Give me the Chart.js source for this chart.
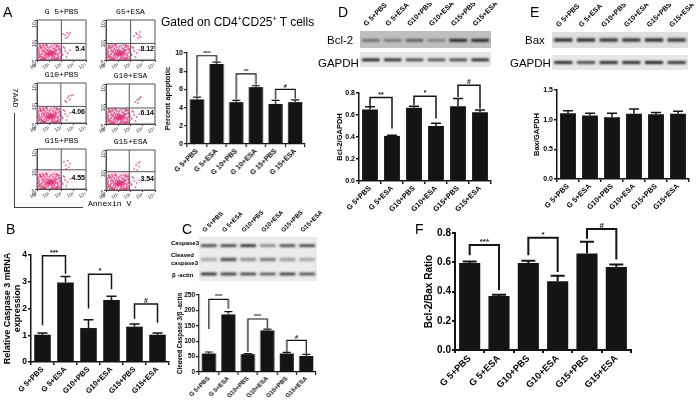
<!DOCTYPE html>
<html>
<head>
<meta charset="utf-8">
<title>Figure</title>
<script src="https://cdn.jsdelivr.net/npm/chart.js@4"></script>
<style>
  html, body { margin: 0; background: #fff; }
  #fig { position: relative; width: 697px; height: 402px; overflow: hidden; filter: blur(0.3px); }
  #fig canvas { position: absolute; }
  .txt { position: absolute; white-space: nowrap; font-family: "Liberation Sans", Arial, sans-serif; color: #000; line-height: 1; }
  .line { position: absolute; background: #444; }
</style>
</head>
<body>
<div id="fig"></div>
<script>
const labelsA = ['G 5+PBS', 'G 5+ESA', 'G 10+PBS', 'G 10+ESA', 'G 15+PBS', 'G 15+ESA'];
const labelsAll = ['G 5+PBS', 'G 5+ESA', 'G10+PBS', 'G10+ESA', 'G15+PBS', 'G15+ESA'];

const apoptotic = [4.9, 8.8, 4.6, 6.25, 4.4, 4.6];
const apoptoticTop = [5.15, 9.0, 4.8, 6.4, 4.8, 4.85];
const apoptoticBrackets = [[0, 1, 9.7, 5.3, 9.1, '***'], [2, 3, 7.7, 4.9, 6.5, '**'], [4, 5, 6.0, 4.9, 5.0, '#']];

const caspaseMrna = [1.02, 2.97, 1.27, 2.32, 1.32, 1.02];
const caspaseMrnaTop = [1.08, 3.2, 1.58, 2.46, 1.42, 1.08];
const caspaseMrnaBrackets = [[0, 1, 3.97, 1.37, 3.3, '***'], [2, 3, 3.28, 2.0, 2.72, '*'], [4, 5, 2.17, 1.62, 1.47, '#']];

const cleaved = [60, 187, 58, 135, 60, 52];
const cleavedTop = [65, 196, 60, 139, 64, 57];
const cleavedBrackets = [[0, 1, 236, 140, 205, '***'], [2, 3, 172, 65, 142, '***'], [4, 5, 103, 65, 59, '#']];

const bcl2 = [0.65, 0.41, 0.665, 0.5, 0.68, 0.625];
const bcl2Top = [0.675, 0.415, 0.68, 0.525, 0.75, 0.645];
const bcl2Brackets = [[0, 1, 0.758, 0.68, 0.477, '**'], [2, 3, 0.77, 0.69, 0.568, '*'], [4, 5, 0.87, 0.764, 0.658, '#']];

const bax = [1.11, 1.07, 1.04, 1.1, 1.09, 1.1];
const baxTop = [1.15, 1.11, 1.11, 1.18, 1.12, 1.14];

const ratio = [0.595, 0.37, 0.595, 0.47, 0.66, 0.567];
const ratioTop = [0.605, 0.378, 0.61, 0.508, 0.74, 0.585];
const ratioBrackets = [[0, 1, 0.718, 0.648, 0.41, '***'], [2, 3, 0.768, 0.648, 0.534, '*'], [4, 5, 0.827, 0.76, 0.618, '#']];

// band darkness per lane, 0..1
const bandCaspase3 = [0.8, 0.85, 0.95, 0.5, 0.8, 0.85];
const bandCleaved = [0.3, 0.7, 0.4, 0.5, 0.35, 0.3];
const bandActin = [0.9, 0.85, 0.8, 0.7, 0.85, 0.75];
const bandBcl2 = [0.45, 0.4, 0.55, 0.35, 0.9, 0.9];
const bandGapdhD = [0.95, 0.9, 0.75, 0.7, 0.75, 0.9];
const bandBax = [0.9, 0.9, 0.85, 0.85, 0.9, 0.85];
const bandGapdhE = [0.85, 0.7, 0.85, 0.85, 0.9, 0.8];

// flow plots, in decades of each axis
const cloudX = [0.2, 0.4, 0.6, 0.3, 0.8, 0.5, 0.9, 1.0, 0.7, 0.35, 1.1, 1.2, 1.3, 1.15, 1.05, 0.95, 1.25, 1.35, 1.4, 1.5, 0.85, 0.75, 1.45, 1.6, 1.7, 1.8, 1.55, 1.65, 0.15, 0.25, 0.45, 0.55, 0.65, 1.0, 1.1, 1.2, 1.3, 0.9, 0.8, 1.4, 1.05, 1.15, 1.25, 0.95, 1.35, 0.1, 0.3, 0.5, 0.7, 0.9, 1.1, 1.3, 1.5, 1.7, 1.9, 0.2, 0.4, 0.6, 0.8, 1.0, 1.2, 1.4, 1.6, 1.85, 1.95, 1.08, 1.18, 1.28, 0.98, 0.88, 1.12, 1.22, 1.32, 1.02, 0.92, 0.78, 0.68, 1.42, 1.52, 0.58, 1.0, 1.1, 1.2, 0.9, 1.3, 0.6, 1.6, 0.4, 1.75, 0.25, 1.16, 1.06, 1.26, 0.96, 1.36, 0.86, 2.1, 2.3, 2.25, 2.5, 2.15, 2.4, 2.7, 2.05, 0.12, 0.18, 0.28, 0.38, 0.48, 0.62, 0.72, 0.22, 0.42, 0.52, 0.66, 0.82, 1.48, 1.58, 1.68, 1.78, 1.88, 1.62, 1.72, 1.82, 1.92, 1.38, 1.44, 0.08, 0.34, 0.56, 0.76, 1.14, 1.54, 1.74, 0.32, 0.44, 0.74, 1.46, 1.66, 1.9, 0.16, 0.64, 1.24, 1.56];
const cloudY = [0.3, 0.9, 0.4, 1.2, 0.6, 0.2, 1.0, 0.7, 0.15, 0.55, 0.8, 0.5, 0.9, 0.65, 0.45, 0.85, 0.35, 0.75, 1.1, 0.6, 1.3, 0.3, 0.4, 0.95, 0.25, 0.7, 1.25, 0.1, 0.7, 0.4, 1.05, 1.4, 0.65, 1.2, 1.0, 0.2, 0.15, 0.55, 0.95, 0.8, 0.72, 0.58, 0.66, 0.78, 0.52, 1.0, 0.1, 0.75, 1.1, 0.25, 1.35, 1.2, 0.9, 0.55, 0.35, 0.5, 0.3, 0.95, 0.45, 0.38, 0.88, 0.28, 0.62, 1.15, 0.8, 0.62, 0.74, 0.7, 0.56, 0.68, 0.86, 0.44, 0.82, 0.92, 0.48, 0.8, 0.52, 0.62, 0.78, 0.85, 0.6, 0.68, 0.78, 0.62, 0.6, 1.25, 1.4, 0.62, 1.05, 1.45, 0.52, 0.55, 0.58, 0.7, 0.68, 0.58, 0.5, 0.9, 1.2, 0.7, 1.3, 0.3, 1.0, 0.6, 0.25, 0.85, 1.35, 0.05, 1.5, 0.08, 1.5, 1.45, 1.28, 0.12, 0.05, 1.48, 0.1, 0.18, 1.42, 0.15, 1.1, 1.52, 0.42, 1.38, 0.12, 0.06, 1.5, 0.55, 0.32, 0.18, 1.55, 0.06, 0.08, 1.32, 1.22, 0.22, 0.72, 1.05, 0.22, 0.92, 1.2, 0.12, 1.44, 0.98];
const upperX1 = [2.1, 2.3, 2.45, 2.6, 2.5, 2.35, 2.7];
const upperY1 = [2.6, 2.5, 2.7, 2.55, 2.3, 2.2, 2.75];
const upperX2 = [2.3, 2.5, 2.7, 2.75, 2.6, 2.8, 2.45];
const upperY2 = [2.4, 2.6, 2.5, 2.8, 2.2, 2.3, 2.7];
const upperX3 = [2.3, 2.5, 2.6, 2.8, 2.7, 2.4, 2.95];
const upperY3 = [2.2, 2.5, 2.7, 2.75, 2.35, 2.1, 2.8];
const upperX4 = [2.4, 2.55, 2.7, 2.75, 2.6, 2.85];
const upperY4 = [2.2, 2.4, 2.45, 2.6, 2.1, 2.7];
const upperX5 = [2.2, 2.35, 2.5, 2.6, 2.4, 2.7];
const upperY5 = [2.7, 2.4, 2.8, 2.2, 2.0, 2.55];
const upperX6 = [2.3, 2.45, 2.6, 2.7, 2.55, 2.75];
const upperY6 = [2.1, 2.5, 2.7, 2.35, 2.0, 2.8];
const flowTitles = ['G 5+PBS', 'G5+ESA', 'G10+PBS', 'G10+ESA', 'G15+PBS', 'G15+ESA'];
const flowValues = ['5.4', '8.12', '4.06', '6.14', '4.55', '3.54'];
const flowGateX = [1.99, 2.01, 1.95, 1.9, 1.98, 1.9];
const flowGateY = [1.66, 1.66, 1.66, 1.6, 1.92, 1.83];
const flowDecades = [0, 1, 2, 3, 4];
const superscripts = ['⁰', '¹', '²', '³', '⁴'];

const SANS = '"Liberation Sans", Arial, sans-serif';
const INK = '#141414';
const fig = document.getElementById('fig');

function addText(text, x, y, size, extra) {
  const d = document.createElement('div');
  d.className = 'txt';
  d.innerHTML = text;
  d.style.left = x + 'px';
  d.style.top = y + 'px';
  d.style.fontSize = size + 'px';
  if (extra) d.style.cssText += extra;
  fig.appendChild(d);
  return d;
}

function addCanvas(left, top, width, height) {
  const c = document.createElement('canvas');
  c.width = width;
  c.height = height;
  c.style.left = left + 'px';
  c.style.top = top + 'px';
  c.style.width = width + 'px';
  c.style.height = height + 'px';
  fig.appendChild(c);
  return c.getContext('2d');
}

// error bar caps and significance brackets, on the chart's own scales
const marksPlugin = {
  id: 'marks',
  afterDatasetsDraw(chart, args, opts) {
    const { ctx, scales: { x, y } } = chart;
    ctx.save();
    ctx.strokeStyle = INK;
    ctx.lineWidth = opts.lineWidth;
    opts.tops.forEach((t, i) => {
      const px = x.getPixelForValue(i);
      ctx.beginPath();
      ctx.moveTo(px, y.getPixelForValue(chart.data.datasets[0].data[i]));
      ctx.lineTo(px, y.getPixelForValue(t));
      ctx.moveTo(px - opts.cap, y.getPixelForValue(t));
      ctx.lineTo(px + opts.cap, y.getPixelForValue(t));
      ctx.stroke();
    });
    opts.brackets.forEach(([a, b, top, leftEnd, rightEnd, mark]) => {
      const xa = x.getPixelForValue(a), xb = x.getPixelForValue(b), yt = y.getPixelForValue(top);
      ctx.beginPath();
      ctx.moveTo(xa, y.getPixelForValue(leftEnd));
      ctx.lineTo(xa, yt);
      ctx.lineTo(xb, yt);
      ctx.lineTo(xb, y.getPixelForValue(rightEnd));
      ctx.stroke();
      ctx.fillStyle = INK;
      ctx.font = `bold ${opts.markSize}px ${SANS}`;
      ctx.textAlign = 'center';
      ctx.textBaseline = 'alphabetic';
      ctx.fillText(mark, (xa + xb) / 2, yt - 1);
    });
    ctx.restore();
  }
};

function barPanel(p) {
  const padTop = 14, padRight = 4;
  const ctx = addCanvas(p.left - p.yWidth, p.top - padTop, p.right - p.left + p.yWidth + padRight, p.bottom - p.top + padTop + p.xHeight);
  new Chart(ctx, {
    type: 'bar',
    data: { labels: p.labels, datasets: [{ data: p.values, backgroundColor: INK, categoryPercentage: 1, barPercentage: 0.72 }] },
    options: {
      responsive: false,
      animation: false,
      devicePixelRatio: 1,
      layout: { padding: { top: padTop, right: padRight } },
      plugins: {
        legend: { display: false },
        tooltip: { enabled: false },
        marks: { tops: p.tops, brackets: p.brackets || [], cap: p.cap, lineWidth: p.lineWidth, markSize: p.markSize }
      },
      scales: {
        x: {
          afterFit: s => { s.height = p.xHeight; },
          grid: { drawOnChartArea: false, color: INK, lineWidth: p.lineWidth, tickLength: 3 },
          border: { color: INK, width: p.lineWidth },
          ticks: { minRotation: 45, maxRotation: 45, autoSkip: false, padding: 0, color: '#000', font: { family: SANS, size: p.xFont, weight: 'bold' } }
        },
        y: {
          min: 0,
          max: p.max,
          afterFit: s => { s.width = p.yWidth; },
          grid: { drawOnChartArea: false, color: INK, lineWidth: p.lineWidth, tickLength: 3 },
          border: { color: INK, width: p.lineWidth },
          ticks: { stepSize: p.step, padding: 1, color: '#000', font: { family: SANS, size: p.yFont, weight: 'bold' }, callback: v => v.toFixed(p.digits) },
          title: { display: true, text: p.title, color: '#000', padding: 0, font: { family: SANS, size: p.titleFont, weight: 'bold', lineHeight: 1.1 } }
        }
      }
    },
    plugins: [marksPlugin]
  });
}

barPanel({ left: 187, right: 304.5, top: 53, bottom: 144, labels: labelsA, values: apoptotic, tops: apoptoticTop, brackets: apoptoticBrackets, max: 10, step: 1, digits: 0, yWidth: 23, xHeight: 40, xFont: 7, yFont: 7, titleFont: 7.5, cap: 4, lineWidth: 1.2, markSize: 6, title: 'Percent apoptotic' });
barPanel({ left: 31, right: 169, top: 255, bottom: 362, labels: labelsAll, values: caspaseMrna, tops: caspaseMrnaTop, brackets: caspaseMrnaBrackets, max: 4, step: 1, digits: 0, yWidth: 28, xHeight: 38, xFont: 7.6, yFont: 8.5, titleFont: 9, cap: 5, lineWidth: 1.5, markSize: 7, title: ['Relative Caspase 3 mRNA', 'expression'] });
barPanel({ left: 199, right: 315.5, top: 294.5, bottom: 372, labels: labelsAll, values: cleaved, tops: cleavedTop, brackets: cleavedBrackets, max: 250, step: 50, digits: 0, yWidth: 22, xHeight: 30, xFont: 6.1, yFont: 6.5, titleFont: 6.3, cap: 4, lineWidth: 1.2, markSize: 6, title: 'Cleaved Caspase 3/β -actin' });
barPanel({ left: 359, right: 491, top: 92.7, bottom: 181, labels: labelsAll, values: bcl2, tops: bcl2Top, brackets: bcl2Brackets, max: 0.8, step: 0.2, digits: 1, yWidth: 23, xHeight: 32, xFont: 7.3, yFont: 7, titleFont: 7.5, cap: 5, lineWidth: 1.5, markSize: 7, title: 'Bcl-2/GAPDH' });
barPanel({ left: 556.5, right: 689, top: 90.3, bottom: 179.3, labels: labelsAll, values: bax, tops: baxTop, max: 1.5, step: 0.5, digits: 1, yWidth: 24, xHeight: 34, xFont: 7.3, yFont: 7, titleFont: 7.5, cap: 5, lineWidth: 1.5, markSize: 7, title: 'Bax/GAPDH' });
barPanel({ left: 454.5, right: 631, top: 232.7, bottom: 350, labels: labelsAll, values: ratio, tops: ratioTop, brackets: ratioBrackets, max: 0.8, step: 0.2, digits: 1, yWidth: 31, xHeight: 42, xFont: 9.3, yFont: 10, titleFont: 10, cap: 7, lineWidth: 2, markSize: 8, title: 'Bcl-2/Bax Ratio' });

// a blot row is a floating bar per lane; the rotated lane names are its top axis
function blotRow(r) {
  const topH = r.names ? 28 : 0;
  const ctx = addCanvas(r.x, r.y - topH, r.w + 25, r.h + topH);
  new Chart(ctx, {
    type: 'bar',
    data: {
      labels: r.names || labelsAll,
      datasets: [{
        data: r.bands.map(() => [r.mid - r.half, r.mid + r.half]),
        backgroundColor: r.bands.map(b => `rgba(10,10,10,${b})`),
        categoryPercentage: 1,
        barPercentage: 0.8
      }]
    },
    options: {
      responsive: false,
      animation: false,
      devicePixelRatio: 1,
      layout: { padding: { right: 25 } },
      plugins: { legend: { display: false }, tooltip: { enabled: false } },
      scales: {
        x: {
          position: 'top',
          display: !!r.names,
          afterFit: s => { s.height = topH; },
          grid: { display: false, drawTicks: false },
          border: { display: false },
          ticks: { minRotation: 45, maxRotation: 45, autoSkip: false, padding: 3, color: '#000', font: { family: SANS, size: r.nameFont, weight: 'bold' } }
        },
        y: { display: false, min: -1, max: 1 }
      }
    },
    plugins: [{
      id: 'blotBack',
      beforeDatasetsDraw(chart) {
        const { ctx, chartArea: a } = chart;
        ctx.fillStyle = r.back;
        ctx.fillRect(a.left, a.top, a.width, a.height);
        ctx.filter = 'blur(0.8px)';
      },
      afterDatasetsDraw(chart) {
        chart.ctx.filter = 'none';
      }
    }]
  });
}

blotRow({ x: 199, y: 237, w: 118, h: 15, bands: bandCaspase3, mid: -0.15, half: 0.16, back: '#ebebeb', names: labelsAll, nameFont: 6.2 });
blotRow({ x: 199, y: 252, w: 118, h: 15, bands: bandCleaved, mid: 0, half: 0.22, back: '#ebebeb' });
blotRow({ x: 199, y: 267, w: 118, h: 14, bands: bandActin, mid: 0, half: 0.18, back: '#ebebeb' });
blotRow({ x: 360, y: 31, w: 131, h: 17, bands: bandBcl2, mid: -0.1, half: 0.17, back: '#bfbfbf', names: labelsAll, nameFont: 7 });
blotRow({ x: 360, y: 52, w: 131, h: 15, bands: bandGapdhD, mid: -0.05, half: 0.18, back: '#e6e6e6' });
blotRow({ x: 552, y: 32, w: 136, h: 16, bands: bandBax, mid: 0, half: 0.2, back: '#dedede', names: labelsAll, nameFont: 7 });
blotRow({ x: 552, y: 55, w: 136, h: 15, bands: bandGapdhE, mid: 0, half: 0.2, back: '#e6e6e6' });

// flow plots
const gatePlugin = {
  id: 'gate',
  beforeDatasetsDraw(chart, args, opts) {
    const { ctx, chartArea: a, scales: { x, y } } = chart;
    ctx.fillStyle = 'rgba(245,190,215,0.55)';
    ctx.fillRect(a.left, y.getPixelForValue(opts.y), x.getPixelForValue(opts.x) - a.left, a.bottom - y.getPixelForValue(opts.y));
  },
  afterDraw(chart, args, opts) {
    const { ctx, chartArea: a, scales: { x, y } } = chart;
    ctx.save();
    ctx.strokeStyle = '#555';
    ctx.lineWidth = 1;
    ctx.beginPath();
    ctx.moveTo(x.getPixelForValue(opts.x), a.top);
    ctx.lineTo(x.getPixelForValue(opts.x), a.bottom);
    ctx.moveTo(a.left, y.getPixelForValue(opts.y));
    ctx.lineTo(a.right, y.getPixelForValue(opts.y));
    ctx.rect(a.left, a.top, a.width, a.height);
    ctx.stroke();
    ctx.restore();
  }
};

function flowPlot(i, left, top, width, height, upX, upY) {
  const yW = 10, xH = 10;
  const ctx = addCanvas(left - yW, top - 1, width + yW + 5, height + xH + 1);
  const xs = cloudX.concat(upX), ys = cloudY.concat(upY);
  new Chart(ctx, {
    type: 'scatter',
    data: {
      datasets: [{
        data: xs.map((v, k) => ({ x: v, y: ys[k] })),
        backgroundColor: 'rgba(222,50,120,0.7)',
        pointRadius: 0.9,
        pointBorderWidth: 0
      }]
    },
    options: {
      responsive: false,
      animation: false,
      devicePixelRatio: 1,
      layout: { padding: { top: 1, right: 5 } },
      plugins: { legend: { display: false }, tooltip: { enabled: false }, gate: { x: flowGateX[i], y: flowGateY[i] } },
      scales: {
        x: {
          min: 0, max: 4,
          afterFit: s => { s.height = xH; },
          afterBuildTicks: s => { s.ticks = flowDecades.map(v => ({ value: v })); },
          grid: { drawOnChartArea: false, color: '#444', tickLength: 2 },
          border: { color: '#444' },
          ticks: { minRotation: 25, maxRotation: 25, padding: 0, color: '#333', font: { family: SANS, size: 5 }, callback: v => '10' + superscripts[v] }
        },
        y: {
          min: 0, max: 4,
          afterFit: s => { s.width = yW; },
          afterBuildTicks: s => { s.ticks = flowDecades.map(v => ({ value: v })); },
          grid: { drawOnChartArea: false, color: '#444', tickLength: 2 },
          border: { color: '#444' },
          ticks: { minRotation: 90, maxRotation: 90, padding: 0, color: '#333', font: { family: SANS, size: 5 }, callback: v => '10' + superscripts[v] }
        }
      }
    },
    plugins: [gatePlugin]
  });
  addText(flowTitles[i], left, top - 9, 8, `width:${width}px;text-align:center;font-family:"Liberation Mono",monospace;`);
  addText(flowValues[i], left + width - 22, top + height - 15, 7, 'width:21px;text-align:right;font-weight:bold;');
}

flowPlot(0, 37, 17, 49, 43, upperX1, upperY1);
flowPlot(1, 106, 17, 49, 43, upperX2, upperY2);
flowPlot(2, 37, 80, 49, 43, upperX3, upperY3);
flowPlot(3, 106, 81, 49, 43, upperX4, upperY4);
flowPlot(4, 37, 146, 49, 43, upperX5, upperY5);
flowPlot(5, 106, 147, 49, 43, upperX6, upperY6);

// text around the panels
addText('Gated on CD4<sup style="font-size:7px;line-height:0">+</sup>CD25<sup style="font-size:7px;line-height:0">+</sup> T cells', 161, 16, 12);
addText('7AAD', 19, 88, 8, 'font-family:"Liberation Mono",monospace;transform:rotate(90deg);transform-origin:left top;');
addText('Annexin V', 88, 200, 8, 'font-family:"Liberation Mono",monospace;');
const vLine = document.createElement('div');
vLine.className = 'line';
vLine.style.cssText = 'left:14px;top:113px;width:1px;height:94px;';
fig.appendChild(vLine);
const hLine = document.createElement('div');
hLine.className = 'line';
hLine.style.cssText = 'left:14px;top:207px;width:69px;height:1px;';
fig.appendChild(hLine);

addText('A', 3, 5, 14);
addText('B', 6, 222, 14);
addText('C', 182, 222, 14);
addText('D', 338, 5, 14);
addText('E', 530, 5, 14);
addText('F', 415, 222, 14);

addText('Caspase3', 171, 240, 6, 'font-weight:bold;');
addText('Cleaved<br>caspase3', 171, 252, 6, 'font-weight:bold;line-height:1.3;');
addText('β -actin', 172, 272, 6, 'font-weight:bold;');
addText('Bcl-2', 327, 35, 11.5);
addText('GAPDH', 318, 58, 11.5);
addText('Bax', 525, 35, 11.5);
addText('GAPDH', 510, 58, 11.5);
</script>
</body>
</html>
